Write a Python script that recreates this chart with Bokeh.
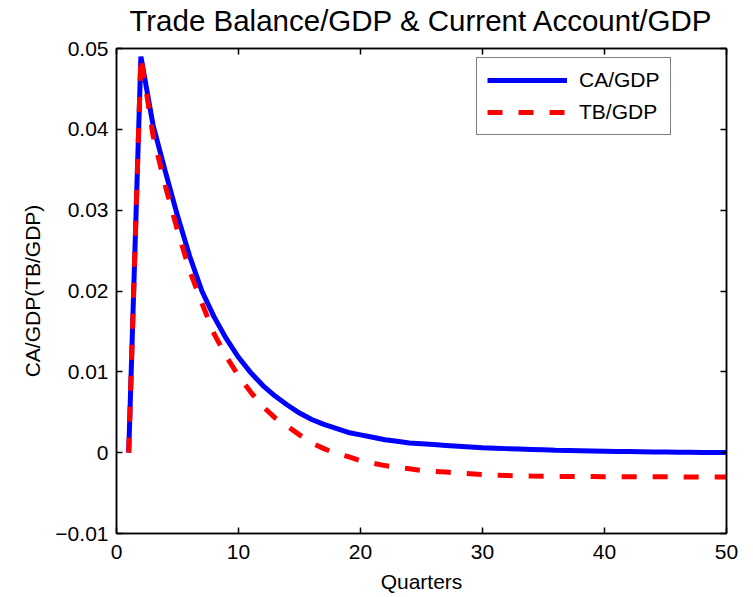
from bokeh.plotting import figure
from bokeh.models import (Range1d, LinearAxis, FixedTicker, CustomJSTickFormatter,
                          Legend, LegendItem)
from bokeh.embed import file_html
from bokeh.resources import INLINE

quarters = list(range(1, 51))
ca_gdp = [0.0, 0.0490, 0.0405, 0.0348, 0.0293, 0.0243, 0.0200, 0.0168, 0.0141, 0.0118,
          0.0099, 0.0083, 0.0070, 0.0059, 0.0049, 0.0041, 0.0035, 0.0030, 0.0025, 0.0022,
          0.0019, 0.0016, 0.0014, 0.0012, 0.0011, 0.0010, 0.0009, 0.0008, 0.0007, 0.0006,
          0.00055, 0.0005, 0.00045, 0.0004, 0.00035, 0.0003, 0.00027, 0.00024, 0.00021, 0.00018,
          0.00015, 0.00013, 0.00011, 0.00009, 0.00007, 0.00005, 0.00004, 0.00003, 0.00002, 0.00001]
tb_gdp = [0.0, 0.0490, 0.0392, 0.0330, 0.0275, 0.0225, 0.0185, 0.0147, 0.0119, 0.0095,
          0.0075, 0.0057, 0.0043, 0.0033, 0.0022, 0.0012, 0.0005, -0.0001, -0.0005, -0.0010,
          -0.0013, -0.0016, -0.0018, -0.0020, -0.0022, -0.0023, -0.0024, -0.0025, -0.0026, -0.0027,
          -0.0028, -0.00283, -0.00287, -0.0029, -0.00292, -0.00293, -0.00294, -0.00295, -0.00296, -0.00297,
          -0.00297, -0.00298, -0.00298, -0.00299, -0.00299, -0.00299, -0.0030, -0.0030, -0.0030, -0.0030]

x_ticks = [0, 10, 20, 30, 40, 50]
x_labels = ["0", "10", "20", "30", "40", "50"]
y_ticks = [-0.01, 0.0, 0.01, 0.02, 0.03, 0.04, 0.05]
y_labels = ["\u22120.01", "0", "0.01", "0.02", "0.03", "0.04", "0.05"]

title_text = "Trade Balance/GDP & Current Account/GDP"
x_title = "Quarters"
y_title = "CA/GDP(TB/GDP)"
series_names = ["CA/GDP", "TB/GDP"]

FONT = "Liberation Sans"

p = figure(width=745, height=595, output_backend="svg", toolbar_location=None,
           x_range=Range1d(0, 50), y_range=Range1d(-0.01, 0.05),
           min_border_left=116, min_border_right=19, min_border_top=48, min_border_bottom=62)
p.background_fill_color = "white"
p.border_fill_color = "white"
p.outline_line_color = "black"
p.outline_line_width = 1.5
p.xgrid.visible = False
p.ygrid.visible = False

fmt_code = """
for (let i = 0; i < tv.length; i++) {
  if (Math.abs(tick - tv[i]) < 1e-9) return tl[i];
}
return '';
"""

def style_axis(ax):
    ax.axis_line_color = "black"
    ax.axis_line_width = 1.5
    ax.major_tick_line_color = "black"
    ax.major_tick_line_width = 1.5
    ax.major_tick_in = 6
    ax.major_tick_out = 0
    ax.minor_tick_line_color = None
    ax.major_label_text_font = FONT
    ax.major_label_text_font_size = "21px"
    ax.major_label_text_color = "black"
    ax.axis_label_text_font = FONT
    ax.axis_label_text_font_size = "21px"
    ax.axis_label_text_font_style = "normal"
    ax.axis_label_text_color = "black"

xa = p.xaxis[0]
xa.ticker = FixedTicker(ticks=x_ticks)
xa.formatter = CustomJSTickFormatter(args=dict(tv=x_ticks, tl=x_labels), code=fmt_code)
style_axis(xa)
xa.axis_label = x_title
xa.major_label_standoff = 11
xa.axis_label_standoff = 8

ya = p.yaxis[0]
ya.ticker = FixedTicker(ticks=y_ticks)
ya.formatter = CustomJSTickFormatter(args=dict(tv=y_ticks, tl=y_labels), code=fmt_code)
style_axis(ya)
ya.axis_label = y_title
ya.major_label_standoff = 8
ya.axis_label_standoff = 8

# top axis: ticks only, carries the chart title as its label
empty = CustomJSTickFormatter(code="return '';")
top = LinearAxis(ticker=FixedTicker(ticks=x_ticks), formatter=empty)
style_axis(top)
top.major_label_standoff = 0
top.major_label_text_font_size = "0px"
top.axis_label = title_text
top.axis_label_text_font_size = "29.5px"
top.axis_label_standoff = 12
p.add_layout(top, "above")

right = LinearAxis(ticker=FixedTicker(ticks=y_ticks), formatter=empty)
style_axis(right)
right.major_label_standoff = 0
right.major_label_text_font_size = "0px"
p.add_layout(right, "right")

r_ca = p.line(quarters, ca_gdp, line_color="#0000ff", line_width=5)
r_tb = p.line(quarters, tb_gdp, line_color="#ff0000", line_width=5, line_dash="15 16")

legend = Legend(items=[LegendItem(label=series_names[0], renderers=[r_ca]),
                       LegendItem(label=series_names[1], renderers=[r_tb])],
                location=(360, 398))
legend.label_text_font = FONT
legend.label_text_font_size = "21px"
legend.label_text_color = "black"
legend.border_line_color = "black"
legend.border_line_width = 1.5
legend.background_fill_color = "white"
legend.background_fill_alpha = 1
legend.padding = 10
legend.margin = 0
legend.spacing = 8
legend.glyph_width = 80
legend.glyph_height = 24
legend.label_height = 24
legend.label_standoff = 12
p.add_layout(legend)

open("out.html", "w").write(file_html(p, INLINE))
